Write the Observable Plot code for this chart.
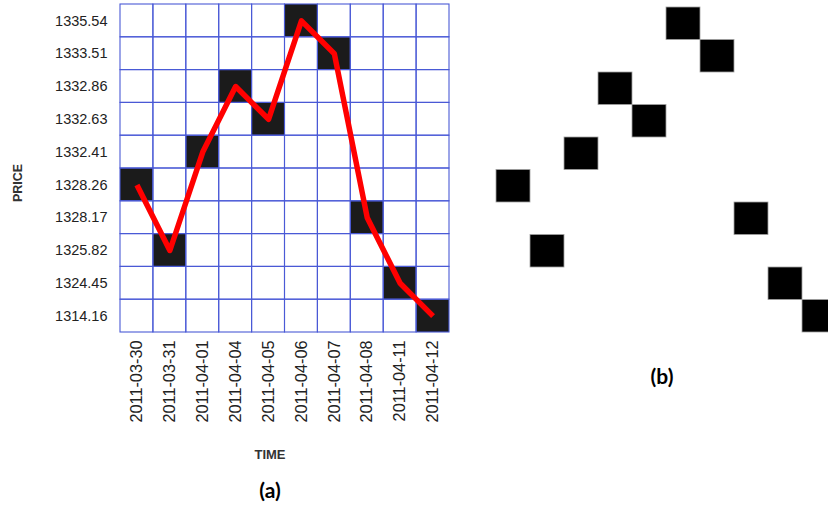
<!DOCTYPE html>
<html>
<head>
<meta charset="utf-8">
<script src="https://cdn.jsdelivr.net/npm/d3@7"></script>
<script src="https://cdn.jsdelivr.net/npm/@observablehq/plot@0.6"></script>
<style>
  body { margin: 0; background: #fff; }
  #wrap { position: relative; width: 828px; height: 506px; overflow: hidden; background: #fff; font-family: "Liberation Sans", Arial, sans-serif; }
  .pane { position: absolute; top: 0; }
  .lbl { position: absolute; color: #222; white-space: nowrap; }
</style>
</head>
<body>
<div id="wrap"></div>
<script>
// ---- data ----
const dates = ["2011-03-30","2011-03-31","2011-04-01","2011-04-04","2011-04-05","2011-04-06","2011-04-07","2011-04-08","2011-04-11","2011-04-12"];
const prices = ["1328.26","1325.82","1332.41","1332.86","1332.63","1335.54","1333.51","1328.17","1324.45","1314.16"];
const priceTicks = ["1335.54","1333.51","1332.86","1332.63","1332.41","1328.26","1328.17","1325.82","1324.45","1314.16"];

const data = dates.map((d, i) => ({date: d, price: prices[i]}));
const allCells = d3.cross(dates, priceTicks).map(([date, price]) => ({date, price}));

const wrap = document.getElementById("wrap");

// ---- panel (a) ----
const plotA = Plot.plot({
  width: 460,
  height: 506,
  marginLeft: 120,
  marginRight: 11,
  marginTop: 4,
  marginBottom: 174,
  style: {fontFamily: "Liberation Sans, Arial, sans-serif", background: "transparent", overflow: "visible"},
  x: {domain: dates, padding: 0, round: false, axis: null},
  y: {domain: priceTicks, padding: 0, round: false, axis: null},
  marks: [
    Plot.cell(allCells, {x: "date", y: "price", fill: "white"}),
    Plot.cell(data, {x: "date", y: "price", fill: "#1b1b1b"}),
    Plot.cell(allCells, {x: "date", y: "price", fill: "none", stroke: "#4a5ad6", strokeWidth: 1.1}),
    Plot.line(data, {x: "date", y: "price", stroke: "#ff0000", strokeWidth: 5.5, strokeLinejoin: "round", strokeLinecap: "butt"}),
    Plot.axisY({tickSize: 0, tickPadding: 13, fontSize: 14.5, label: null, color: "#222"}),
    Plot.axisX({tickSize: 0, tickPadding: 8, tickRotate: -90, fontSize: 16.3, label: null, color: "#222"})
  ]
});
plotA.classList.add("pane");
plotA.style.left = "0px";
wrap.appendChild(plotA);

// ---- panel (b) ----
const plotB = Plot.plot({
  width: 360,
  height: 506,
  marginLeft: 16,
  marginRight: 4,
  marginTop: 7,
  marginBottom: 174,
  style: {background: "transparent"},
  x: {domain: dates, padding: 0, round: false, axis: null},
  y: {domain: priceTicks, padding: 0, round: false, axis: null},
  marks: [
    Plot.cell(data, {x: "date", y: "price", fill: "#000", stroke: "#a0a0a0", strokeWidth: 0.8})
  ]
});
plotB.classList.add("pane");
plotB.style.left = "480px";
wrap.appendChild(plotB);

// ---- labels ----
function label(text, x, y, css, rotate) {
  const el = document.createElement("div");
  el.className = "lbl";
  el.textContent = text;
  Object.assign(el.style, css);
  el.style.left = x + "px";
  el.style.top = y + "px";
  el.style.transform = "translate(-50%, -50%)" + (rotate ? " rotate(-90deg)" : "");
  wrap.appendChild(el);
}
label("PRICE", 18, 183, {fontSize: "12.5px", fontWeight: "bold", color: "#333"}, true);
label("TIME", 270, 454, {fontSize: "13px", fontWeight: "bold", color: "#333"});
label("(a)", 270, 489, {fontSize: "21px", fontWeight: "bold", fontFamily: "Lato, 'Open Sans', sans-serif", color: "#000"});
label("(b)", 662, 375, {fontSize: "21px", fontWeight: "bold", fontFamily: "Lato, 'Open Sans', sans-serif", color: "#000"});
</script>
</body>
</html>
